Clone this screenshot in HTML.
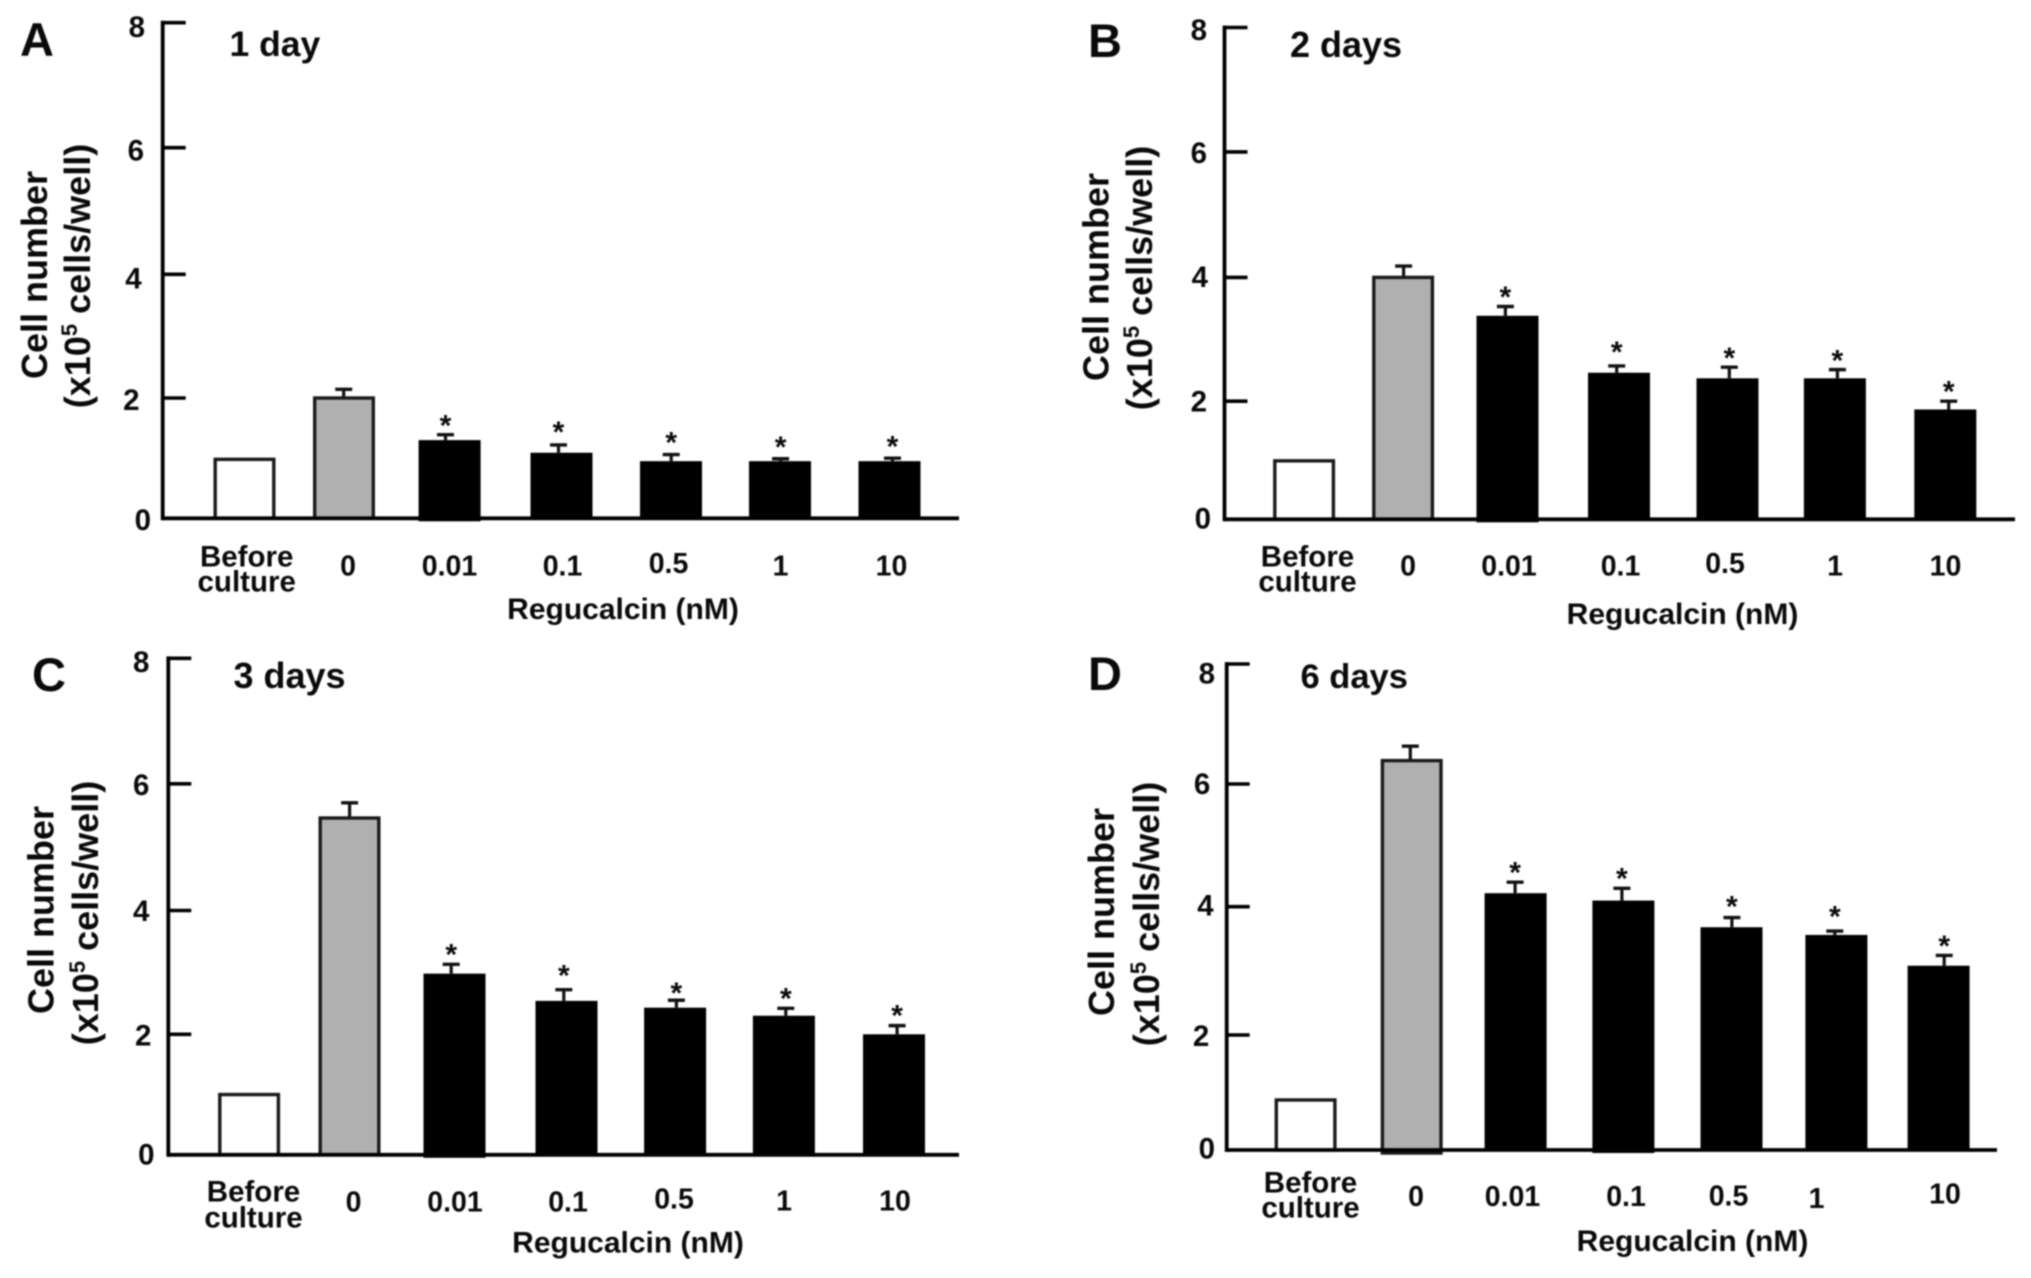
<!DOCTYPE html>
<html lang="en">
<head>
<meta charset="utf-8">
<title>Cell number by regucalcin dose</title>
<style>
  html, body { margin: 0; padding: 0; background: #fff; }
  body { width: 2031px; height: 1278px; overflow: hidden; }
  svg { display: block; filter: blur(0.8px); }
  text { font-family: "Liberation Sans", Arial, sans-serif; font-weight: bold; fill: #0a0a0a; }
</style>
</head>
<body>
<svg id="chart" xmlns="http://www.w3.org/2000/svg" width="2031" height="1278" viewBox="0 0 2031 1278"></svg>
<script>
// ---------- Data ----------
const categories = ["Before culture", "0", "0.01", "0.1", "0.5", "1", "10"];
const yTickValues = [0, 2, 4, 6, 8];
const significant = [false, false, true, true, true, true, true];

const meansDay1 = [0.98, 2.00, 1.30, 1.09, 0.95, 0.95, 0.95];
const errorsDay1 = [0, 0.14, 0.09, 0.13, 0.11, 0.04, 0.05];

const meansDay2 = [0.99, 4.00, 3.38, 2.46, 2.37, 2.37, 1.86];
const errorsDay2 = [0, 0.18, 0.15, 0.11, 0.18, 0.14, 0.14];

const meansDay3 = [1.00, 5.46, 2.98, 2.54, 2.43, 2.30, 2.00];
const errorsDay3 = [0, 0.24, 0.15, 0.18, 0.12, 0.12, 0.14];

const meansDay6 = [0.87, 6.39, 4.22, 4.10, 3.68, 3.56, 3.08];
const errorsDay6 = [0, 0.24, 0.18, 0.20, 0.15, 0.06, 0.16];

// ---------- Panel layout (geometry only, no data) ----------
const layouts = [
  { key: "a", letter: "A", title: "1 day", means: meansDay1, errors: errorsDay1,
    axisX: 162.7, axisRight: 959, tickY: [518.3, 398, 274.3, 147.7, 22.7],
    slotX: [244.5, 344, 449.6, 561.5, 671, 780, 889.5],
    errX: [0, 343.7, 445.5, 558.5, 671.2, 780.6, 892.5],
    starGap: [0, 0, 15.8, 19.4, 18.6, 18.2, 18.2],
    tickLabelRight: [151, 139.5, 141.7, 144, 145], tickLabelY: [530, 410, 288.3, 160.7, 37],
    labelX: [348, 449.5, 562.5, 668.5, 780.5, 891.5], labelY: [575.5, 575.5, 575.5, 573, 575.5, 575.5],
    beforeX: 246.7, beforeY: [566.5, 591.5],
    letterPos: [20, 56], titlePos: [229.5, 56], titleSize: 35.5,
    ytitle1: [47, 275], ytitle2: [90, 276], xtitle: [623, 619], dips: [2] },
  { key: "b", letter: "B", title: "2 days", means: meansDay2, errors: errorsDay2,
    axisX: 1224.5, axisRight: 2015, tickY: [519.3, 401.2, 277.4, 151.9, 27.5],
    slotX: [1304.1, 1403.1, 1507.5, 1619, 1727.5, 1834.9, 1945.3],
    errX: [0, 1403.6, 1505.4, 1616.7, 1729.3, 1837.4, 1948.7],
    starGap: [0, 0, 16.2, 20.2, 15.8, 15.8, 16.2],
    tickLabelRight: [1211, 1207, 1208, 1207, 1207], tickLabelY: [528.7, 411.4, 287, 163, 40],
    labelX: [1408, 1509, 1620.5, 1725, 1835, 1945.5], labelY: [575.5, 575.5, 575.5, 573, 575.5, 575.5],
    beforeX: 1307.5, beforeY: [566.5, 591.5],
    letterPos: [1088, 57], titlePos: [1290, 57], titleSize: 36,
    ytitle1: [1108.5, 277], ytitle2: [1152, 278], xtitle: [1682.5, 624], dips: [2] },
  { key: "c", letter: "C", title: "3 days", means: meansDay3, errors: errorsDay3,
    axisX: 168.3, axisRight: 959, tickY: [1154.8, 1034.3, 910.5, 783.8, 658.3],
    slotX: [249.1, 349.5, 454.5, 566.5, 675.1, 783.9, 894],
    errX: [0, 349.6, 451.2, 563.8, 676.4, 785.8, 897.1],
    starGap: [0, 0, 16.2, 20.6, 13.7, 16.5, 16.5],
    tickLabelRight: [154.6, 151.4, 149.4, 149.4, 149.4], tickLabelY: [1164.6, 1045.3, 921, 794.8, 672],
    labelX: [353.5, 455, 568, 674, 784, 895], labelY: [1211.5, 1211.5, 1211.5, 1208.5, 1210.5, 1210.5],
    beforeX: 253.5, beforeY: [1201.5, 1227.5],
    letterPos: [32, 691], titlePos: [233.5, 688], titleSize: 36,
    ytitle1: [53.5, 910], ytitle2: [98, 913], xtitle: [628, 1252.5], dips: [2] },
  { key: "d", letter: "D", title: "6 days", means: meansDay6, errors: errorsDay6,
    axisX: 1226.7, axisRight: 1997, tickY: [1150, 1035, 906.7, 784, 664],
    slotX: [1305.6, 1411.7, 1515.6, 1623.4, 1731.5, 1836.4, 1938.6],
    errX: [0, 1410.3, 1515.1, 1621.9, 1731.9, 1834.8, 1944.2],
    starGap: [0, 0, 16.2, 16.5, 17.4, 21, 15.8],
    tickLabelRight: [1215, 1209.3, 1213.7, 1210.3, 1215], tickLabelY: [1158.3, 1046, 915.7, 794, 683.3],
    labelX: [1416, 1512.5, 1626, 1728.5, 1816.5, 1945], labelY: [1206, 1206, 1206, 1205.5, 1208, 1203.5],
    beforeX: 1310.5, beforeY: [1192.5, 1217.5],
    letterPos: [1088, 690], titlePos: [1300.5, 688], titleSize: 34.5,
    ytitle1: [1114, 912], ytitle2: [1159, 914], xtitle: [1692.5, 1251], dips: [1, 3] }
];

const BAR_WIDTH = 62;
const FILLS = ["#ffffff", "#b0b0b0", "#000000", "#000000", "#000000", "#000000", "#000000"];
const NS = "http://www.w3.org/2000/svg";
const root = document.getElementById("chart");

function make(parent, tag, attrs, text) {
  const node = document.createElementNS(NS, tag);
  for (const k in attrs) node.setAttribute(k, attrs[k]);
  if (text !== undefined) node.textContent = text;
  parent.appendChild(node);
  return node;
}

// Axis function: y position of a value, interpolated between the panel's tick marks
function yScale(layout, v) {
  const t = yTickValues;
  let i = 0;
  while (i < t.length - 2 && v > t[i + 1]) i++;
  const f = (v - t[i]) / (t[i + 1] - t[i]);
  return layout.tickY[i] + f * (layout.tickY[i + 1] - layout.tickY[i]);
}

// Axis function: x centre of a category slot
function xScale(layout, i) {
  return layout.slotX[i];
}

layouts.forEach(function (p) {
  const g = make(root, "g", {});
  
  

  const base = yScale(p, 0);

  // Bars, error bars and stars
  p.means.forEach(function (m, i) {
    const cx = xScale(p, i);
    const top = yScale(p, m);
    const outlined = i < 2;
    const dip = p.dips.indexOf(i) >= 0 ? 3 : 0;

    if (p.errors[i] > 0) {
      const capY = yScale(p, m + p.errors[i]);
      const ex = p.errX[i];
      const stem = make(g, "line", { x1: ex, x2: ex, y1: capY, y2: top, stroke: "#111", "stroke-width": 3.2 });
      
      
      const cap = make(g, "line", { x1: ex - 8.5, x2: ex + 8.5, y1: capY, y2: capY, stroke: "#111", "stroke-width": 3.4 });
      
      
      if (significant[i]) {
        const star = make(g, "text", { x: ex, y: capY - p.starGap[i] + 16.5, "text-anchor": "middle", "font-size": 30 }, "*");
        
        
      }
    }

    const bar = make(g, "rect", {
      x: cx - BAR_WIDTH / 2 + (outlined ? 1.7 : 0),
      y: top,
      width: BAR_WIDTH - (outlined ? 3.4 : 0),
      height: Math.max(0, base - top + dip),
      fill: FILLS[i],
      stroke: outlined ? "#1a1a1a" : "none",
      "stroke-width": outlined ? 3.4 : 0
    });
    
    
  });

  // Axes
  const yAxis = make(g, "line", { x1: p.axisX, x2: p.axisX, y1: p.tickY[4] - 1.9, y2: base + 1.9, stroke: "#000", "stroke-width": 3.8 });
  
  
  const xAxis = make(g, "line", { x1: p.axisX, x2: p.axisRight, y1: base, y2: base, stroke: "#000", "stroke-width": 3.8 });
  
  

  // Y ticks
  yTickValues.forEach(function (v, k) {
    const y = yScale(p, v);
    if (v > 0) {
      const tick = make(g, "line", { x1: p.axisX, x2: p.axisX + 23, y1: y, y2: y, stroke: "#000", "stroke-width": 3.6 });
      
      
    }
    const lab = make(g, "text", { x: p.tickLabelRight[k], y: p.tickLabelY[k], "text-anchor": "end", "font-size": 29.5 }, String(v));
    
    
  });

  // Category labels
  const parts = categories[0].split(" ");
  parts.forEach(function (word, k) {
    const lab = make(g, "text", { x: p.beforeX, y: p.beforeY[k], "text-anchor": "middle", "font-size": 29.5 }, word);
    
    
  });
  categories.slice(1).forEach(function (c, k) {
    const lab = make(g, "text", { x: p.labelX[k], y: p.labelY[k], "text-anchor": "middle", "font-size": 28.5 }, c);
    
    
  });

  // Titles
  const xTitle = make(g, "text", { x: p.xtitle[0], y: p.xtitle[1], "text-anchor": "middle", "font-size": 30 }, "Regucalcin (nM)");
  
  

  const letter = make(g, "text", { x: p.letterPos[0], y: p.letterPos[1], "font-size": 47 }, p.letter);
  
  

  const title = make(g, "text", { x: p.titlePos[0], y: p.titlePos[1], "font-size": p.titleSize }, p.title);
  
  

  const yt1 = make(g, "text", {
    transform: "translate(" + p.ytitle1[0] + "," + p.ytitle1[1] + ") rotate(-90)",
    "text-anchor": "middle", "font-size": 36
  }, "Cell number");
  
  

  const yt2 = make(g, "text", {
    transform: "translate(" + p.ytitle2[0] + "," + p.ytitle2[1] + ") rotate(-90)",
    "text-anchor": "middle", "font-size": 36
  });
  
  
  make(yt2, "tspan", {}, "(x10");
  make(yt2, "tspan", { dy: -13, "font-size": 22 }, "5");
  make(yt2, "tspan", { dy: 13 }, " cells/well)");
});
</script>
</body>
</html>
